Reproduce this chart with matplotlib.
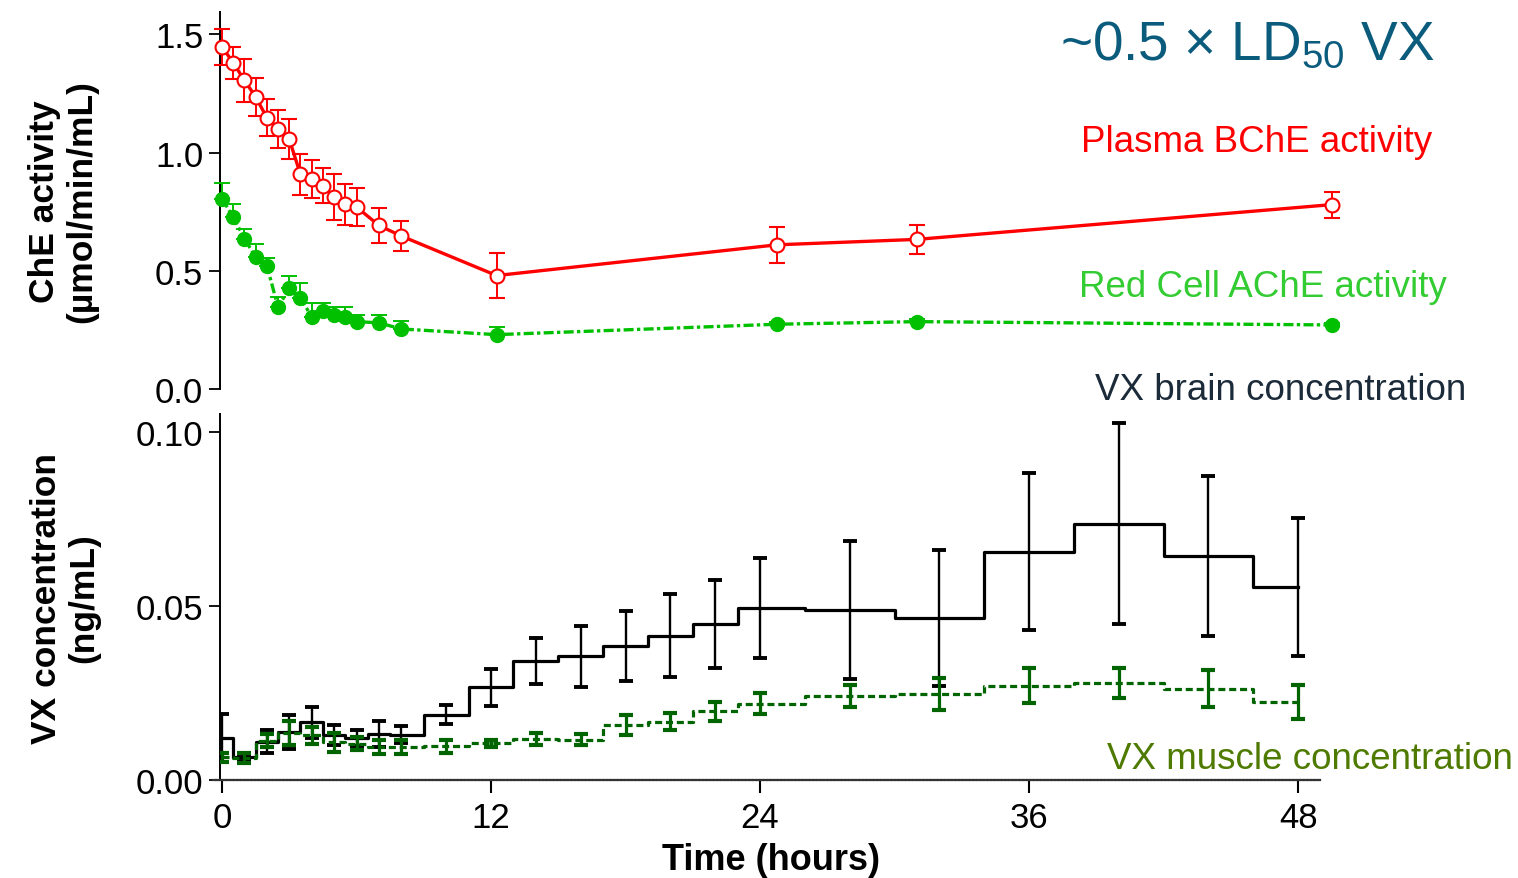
import numpy as np
import matplotlib
matplotlib.use("Agg")
import matplotlib.pyplot as plt

plt.rcParams['font.family'] = ['Liberation Sans', 'DejaVu Sans']
plt.rcParams['mathtext.default'] = 'regular'

# ChE activity (top panel)
t_che = [0, 0.5, 1, 1.5, 2, 2.5, 3, 3.5, 4, 4.5, 5, 5.5, 6, 7, 8, 12.25, 24.75, 31, 49.5]
bche = [1.448, 1.38, 1.306, 1.236, 1.148, 1.10, 1.056, 0.908, 0.89, 0.859, 0.812, 0.781,
        0.77, 0.692, 0.647, 0.48, 0.61, 0.633, 0.78]
bche_err = [0.077, 0.068, 0.09, 0.08, 0.078, 0.082, 0.085, 0.088, 0.08, 0.074, 0.096, 0.088,
            0.08, 0.073, 0.062, 0.096, 0.075, 0.06, 0.055]
ache = [0.805, 0.727, 0.636, 0.558, 0.522, 0.346, 0.427, 0.384, 0.306, 0.332, 0.313, 0.304,
        0.285, 0.28, 0.254, 0.23, 0.274, 0.285, 0.271]
ache_err = [0.066, 0.054, 0.04, 0.057, 0.031, 0.045, 0.053, 0.065, 0.058, 0.032, 0.033, 0.041,
            0.03, 0.035, 0.035, 0.034, 0.01, 0.01, 0.01]

# VX concentration (bottom panel)
t_vx = [0, 1, 2, 3, 4, 5, 6, 7, 8, 10, 12, 14, 16, 18, 20, 22, 24, 28, 32, 36, 40, 44, 48]
brain = [0.012, 0.0065, 0.011, 0.0137, 0.0166, 0.013, 0.012, 0.0132, 0.013, 0.0188, 0.0266,
         0.0343, 0.0355, 0.0386, 0.0415, 0.0448, 0.0495, 0.0489, 0.0465, 0.0656, 0.0737,
         0.0644, 0.0555]
brain_err = [0.0069, 0.001, 0.0033, 0.0049, 0.0045, 0.0029, 0.0023, 0.0037, 0.0025, 0.0027,
             0.0052, 0.0066, 0.0088, 0.0101, 0.0119, 0.0127, 0.0143, 0.0198, 0.0196, 0.0225,
             0.029, 0.023, 0.0198]
muscle = [0.0066, 0.0064, 0.0113, 0.0135, 0.0128, 0.0108, 0.0104, 0.0095, 0.0095, 0.0097,
          0.0105, 0.0118, 0.0116, 0.0158, 0.0168, 0.0197, 0.0219, 0.0242, 0.0247, 0.0271,
          0.0279, 0.0263, 0.0225]
muscle_err = [0.0013, 0.0015, 0.0018, 0.0034, 0.0024, 0.0027, 0.0019, 0.0019, 0.0019, 0.0018,
              0.0011, 0.0018, 0.0015, 0.003, 0.0024, 0.0027, 0.003, 0.0031, 0.0047, 0.0051,
              0.0042, 0.0052, 0.0049]

W, H = 1518, 879
fig = plt.figure(figsize=(W / 100, H / 100), dpi=100)

x0, x1 = 220, 1340
xlim = (-0.09, 49.87)
ax1 = fig.add_axes([x0 / W, 1 - 390 / H, (x1 - x0) / W, (390 - 13) / H])
ax2 = fig.add_axes([x0 / W, 1 - 781 / H, (x1 - x0) / W, (781 - 415) / H])

red = '#ff0000'
green = '#00c000'
dkgreen = '#006400'

# top panel
ax1.errorbar(t_che, bche, yerr=bche_err, color=red, lw=2.4, marker='o', ms=10,
             mfc='white', mec=red, mew=1.5, capsize=5.5, elinewidth=1.4, capthick=1.4,
             zorder=3, clip_on=False)
ax1.errorbar(t_che, ache, yerr=[np.zeros(len(ache_err)), ache_err], color=green, lw=2.4,
             ls=(0, (3, 1, 1, 1)), marker='o', ms=10, mfc=green, mec=green,
             capsize=5.5, elinewidth=1.4, capthick=1.4, zorder=3, clip_on=False)
ax1.set_xlim(*xlim)
ax1.set_ylim(0, 1.595)
ax1.set_yticks([0, 0.5, 1.0, 1.5])
ax1.set_yticklabels(['0.0', '0.5', '1.0', '1.5'])
for s in ['top', 'right', 'bottom']:
    ax1.spines[s].set_visible(False)
ax1.spines['left'].set_linewidth(1.4)
ax1.tick_params(axis='y', direction='out', length=8, width=1.3, labelsize=25, pad=4)
ax1.set_xticks([])
ax1.set_ylabel('ChE activity\n(µmol/min/mL)', fontsize=25.5, fontweight='bold', linespacing=1.15)
ax1.yaxis.set_label_coords((98 - x0) / (x1 - x0), 0.5)

# bottom panel
ax2.step(t_vx, brain, where='mid', color='black', lw=2.3, zorder=3)
ax2.errorbar(t_vx, brain, yerr=brain_err, fmt='none', ecolor='black', elinewidth=1.7,
             capsize=5, capthick=2.8, zorder=3)
ax2.step(t_vx, muscle, where='mid', color=dkgreen, lw=2.3, ls=(0, (2.2, 1.2)), zorder=4)
ax2.errorbar(t_vx, muscle, yerr=muscle_err, fmt='none', ecolor=dkgreen, elinewidth=2.3,
             capsize=5, capthick=3, zorder=4)
ax2.set_xlim(*xlim)
ax2.set_ylim(0, 0.1052)
ax2.set_yticks([0, 0.05, 0.10])
ax2.set_yticklabels(['0.00', '0.05', '0.10'])
ax2.set_xticks([0, 12, 24, 36, 48])
for s in ['top', 'right']:
    ax2.spines[s].set_visible(False)
ax2.spines['left'].set_linewidth(1.4)
ax2.spines['bottom'].set_bounds(-0.4, 49)
ax2.spines['bottom'].set_linewidth(1.6)
ax2.spines['bottom'].set_color('#333333')
ax2.spines['bottom'].set_linestyle((0, (1, 0.6)))
ax2.tick_params(axis='y', direction='out', length=8, width=1.3, labelsize=25, pad=4)
ax2.tick_params(axis='x', direction='out', length=9, width=1.5, labelsize=25, pad=6,
                color='black')
ax2.set_ylabel('VX concentration\n(ng/mL)', fontsize=25.5, fontweight='bold', linespacing=1.15)
ax2.yaxis.set_label_coords((100 - x0) / (x1 - x0), 0.5)
ax2.set_xlabel('Time (hours)', fontsize=26, fontweight='bold')
ax2.xaxis.set_label_coords((771 - x0) / (x1 - x0), (781 - 843) / (781 - 415))

# annotations
fig.text(1435 / W, 1 - 60 / H, r'~0.5 × LD$_{50}$ VX', color='#0b5b7d', fontsize=39.5,
         ha='right', va='baseline')
fig.text(1432 / W, 1 - 152 / H, 'Plasma BChE activity', color=red, fontsize=26.5,
         ha='right', va='baseline')
fig.text(1447 / W, 1 - 297 / H, 'Red Cell AChE activity', color='#33cc33', fontsize=26.5,
         ha='right', va='baseline')
fig.text(1466 / W, 1 - 400 / H, 'VX brain concentration', color='#1c2b3a', fontsize=26.5,
         ha='right', va='baseline')
fig.text(1513 / W, 1 - 769 / H, 'VX muscle concentration', color='#4e7a00', fontsize=26.5,
         ha='right', va='baseline')

fig.savefig('out.png', dpi=100)
